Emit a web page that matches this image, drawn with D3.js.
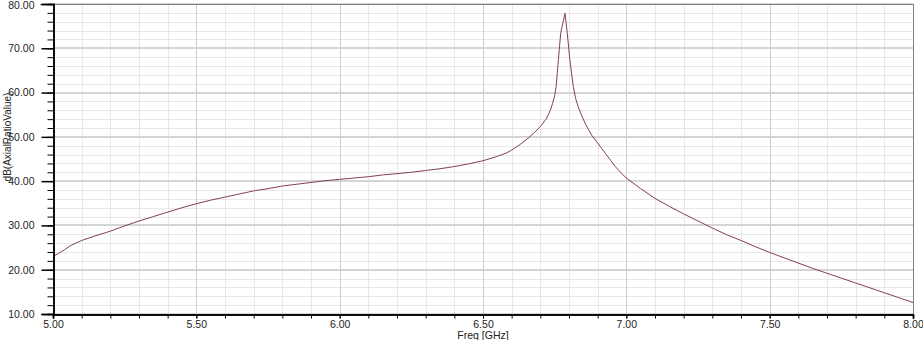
<!DOCTYPE html>
<html>
<head>
<meta charset="utf-8">
<script src="https://cdn.jsdelivr.net/npm/d3@7"></script>
<style>
  html, body { margin: 0; padding: 0; background: #ffffff; }
  svg { display: block; }
  text { font-family: "Liberation Sans", Arial, sans-serif; fill: #222; }
</style>
</head>
<body>
<svg id="chart" width="923" height="340"></svg>
<script>
// ---- data ----
const freqGHz = [5.00, 5.02, 5.04, 5.06, 5.08, 5.10, 5.15, 5.20, 5.25, 5.30, 5.35, 5.40, 5.45, 5.50,
  5.55, 5.60, 5.65, 5.70, 5.75, 5.80, 5.85, 5.90, 5.95, 6.00, 6.05, 6.10, 6.15, 6.20, 6.25, 6.30,
  6.35, 6.40, 6.45, 6.50, 6.55, 6.58, 6.60, 6.63, 6.65, 6.68, 6.70, 6.72, 6.735, 6.743, 6.75, 6.755,
  6.763, 6.771, 6.786, 6.794, 6.803, 6.815, 6.823, 6.832, 6.845, 6.856, 6.87, 6.88, 6.90, 6.915,
  6.93, 6.945, 6.96, 6.98, 7.00, 7.05, 7.10, 7.15, 7.20, 7.25,
  7.30, 7.35, 7.40, 7.45, 7.50, 7.55, 7.60, 7.65, 7.70, 7.75, 7.80, 7.85, 7.90, 7.95, 8.00];
const axialRatioDb = [23.0, 23.7, 24.5, 25.4, 26.0, 26.6, 27.7, 28.7, 29.9, 31.0, 32.0, 33.0, 34.0, 34.9,
  35.7, 36.4, 37.1, 37.8, 38.3, 38.9, 39.3, 39.7, 40.1, 40.4, 40.7, 41.0, 41.4, 41.7, 42.0, 42.4,
  42.8, 43.3, 43.9, 44.6, 45.6, 46.3, 47.0, 48.3, 49.3, 51.0, 52.3, 54.0, 56.0, 57.6, 59.3, 61.3,
  67.4, 73.4, 77.9, 73.4, 67.4, 61.3, 58.7, 56.8, 54.7, 53.1, 51.4, 50.3, 48.6, 47.3,
  46.0, 44.7, 43.4, 42.0, 40.7, 38.3, 36.1, 34.3, 32.6, 31.0,
  29.4, 27.9, 26.6, 25.2, 23.9, 22.7, 21.5, 20.3, 19.2, 18.1, 17.0, 15.9, 14.8, 13.7, 12.6];
const xTickValues = [5.00, 5.50, 6.00, 6.50, 7.00, 7.50, 8.00];
const yTickValues = [10, 20, 30, 40, 50, 60, 70, 80];
const xLabel = "Freq [GHz]";
const yLabel = "dB(AxialRatioValue)";

// ---- layout ----
const svg = d3.select("#chart");
const pLeft = 53, pRight = 913, pTop = 4, pBottom = 314;

const x = d3.scaleLinear().domain([5, 8]).range([pLeft, pRight]);
const y = d3.scaleLinear().domain([10, 80]).range([pBottom, pTop]);

const xMinor = d3.range(5, 8.0001, 0.1).map(v => +v.toFixed(2));
const yMinor = d3.range(10, 80.0001, 2);

// minor grid
svg.append("g").selectAll("line").data(xMinor).join("line")
  .attr("x1", d => Math.round(x(d)) + 0.5).attr("x2", d => Math.round(x(d)) + 0.5)
  .attr("y1", pTop).attr("y2", pBottom)
  .attr("stroke", "#e8e8e8").attr("stroke-width", 1);
svg.append("g").selectAll("line").data(yMinor).join("line")
  .attr("x1", pLeft).attr("x2", pRight)
  .attr("y1", d => Math.round(y(d)) + 0.5).attr("y2", d => Math.round(y(d)) + 0.5)
  .attr("stroke", "#e8e8e8").attr("stroke-width", 1);

// major grid
svg.append("g").selectAll("line").data(xTickValues).join("line")
  .attr("x1", d => Math.round(x(d)) + 0.5).attr("x2", d => Math.round(x(d)) + 0.5)
  .attr("y1", pTop).attr("y2", pBottom)
  .attr("stroke", "#cccccc").attr("stroke-width", 1);
svg.append("g").selectAll("line").data(yTickValues).join("line")
  .attr("x1", pLeft).attr("x2", pRight)
  .attr("y1", d => Math.round(y(d))).attr("y2", d => Math.round(y(d)))
  .attr("stroke", "#d4d4d4").attr("stroke-width", 2);

// frame (top / right)
svg.append("line").attr("x1", 40).attr("x2", pRight + 0.5).attr("y1", pTop + 0.5).attr("y2", pTop + 0.5)
  .attr("stroke", "#808080");
svg.append("line").attr("x1", pRight + 0.5).attr("x2", pRight + 0.5).attr("y1", pTop).attr("y2", pBottom)
  .attr("stroke", "#808080");

// curve
const pts = freqGHz.map((f, i) => [f, axialRatioDb[i]]);
svg.append("path").datum(pts)
  .attr("fill", "none")
  .attr("stroke", "#83404f")
  .attr("stroke-width", 1)
  .attr("stroke-linejoin", "round")
  .attr("d", d3.line().x(d => x(d[0])).y(d => y(d[1])).curve(d3.curveLinear));

// left axis
const yAxisG = svg.append("g").attr("transform", `translate(${pLeft + 0.5},0)`);
yAxisG.call(d3.axisLeft(y).tickValues(yMinor).tickSize(6).tickFormat(""));
const yMajorG = svg.append("g").attr("transform", `translate(${pLeft + 0.5},0)`);
yMajorG.call(d3.axisLeft(y).tickValues(yTickValues).tickSize(12).tickPadding(7)
  .tickFormat(d3.format(".2f")));
yMajorG.selectAll(".tick line").attr("stroke-width", 1.5);
yMajorG.selectAll("text").attr("font-size", 10.5).attr("font-family", "Liberation Sans, Arial, sans-serif").attr("fill", "#222");
yMajorG.selectAll(".tick").filter(d => d === 80).select("text").attr("dy", "0.45em");

// bottom axis
const xAxisG = svg.append("g").attr("transform", `translate(0,${pBottom + 0.5})`);
xAxisG.call(d3.axisBottom(x).tickValues(xMinor).tickSize(4).tickFormat(""));
const xMajorG = svg.append("g").attr("transform", `translate(0,${pBottom + 0.5})`);
xMajorG.call(d3.axisBottom(x).tickValues(xTickValues).tickSize(4).tickPadding(2)
  .tickFormat(d3.format(".2f")));
xMajorG.selectAll("text").attr("font-size", 10.5).attr("font-family", "Liberation Sans, Arial, sans-serif").attr("fill", "#222");

svg.selectAll(".domain").attr("stroke", "#000").attr("stroke-width", 1.5);
svg.selectAll(".tick line").attr("stroke", "#000");

// axis titles
svg.append("text").attr("x", (pLeft + pRight) / 2).attr("y", 338.5)
  .attr("text-anchor", "middle").attr("font-size", 10.5).text(xLabel);
svg.append("text").attr("transform", "translate(11,137) rotate(-90)")
  .attr("text-anchor", "middle").attr("font-size", 10).text(yLabel);
</script>
</body>
</html>
